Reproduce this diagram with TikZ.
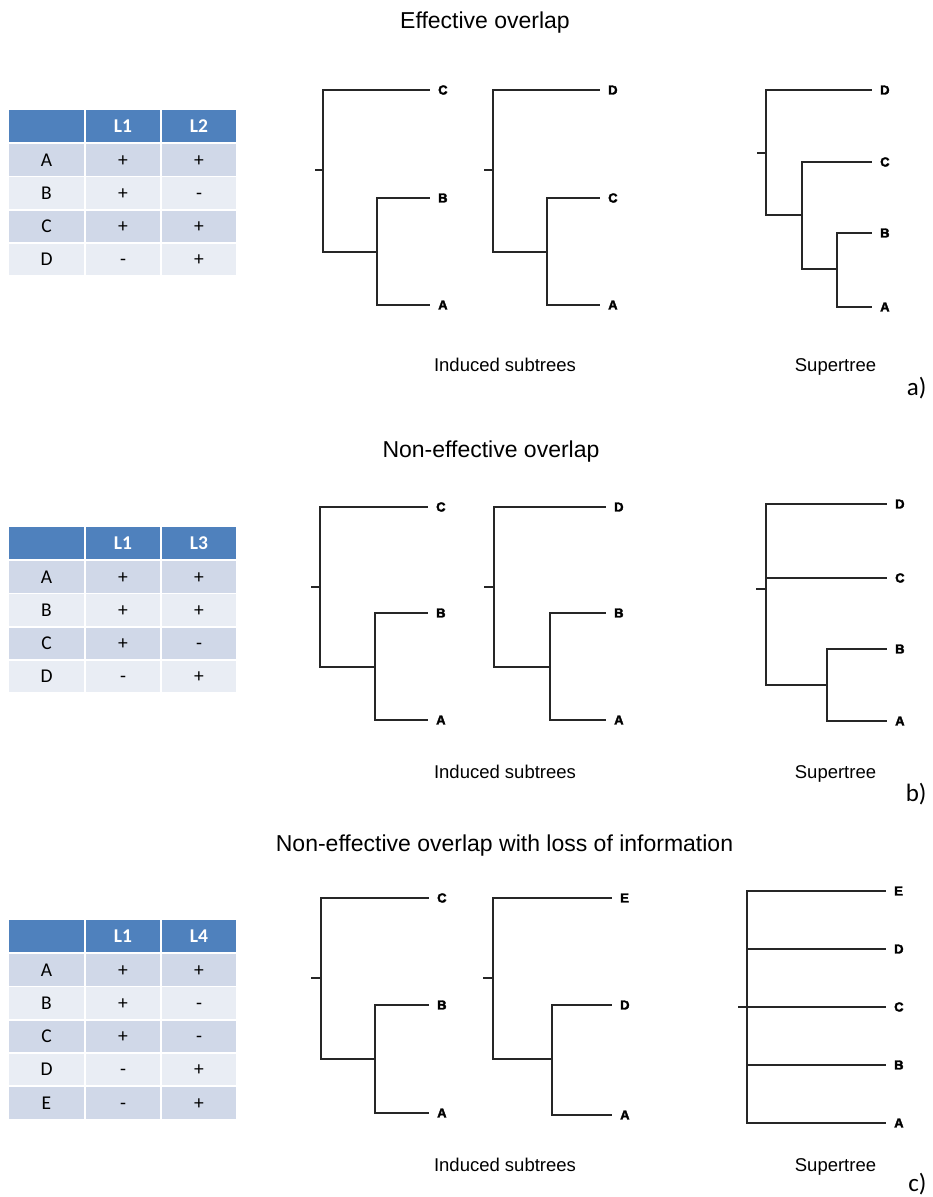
\documentclass[tikz,border=0pt]{standalone}
\usepackage{fontspec}
\setmainfont{Liberation Sans}
\newfontfamily\tabfont{Carlito}
\newfontfamily\leaffont[FakeBold=2.5]{Liberation Sans Bold}
\definecolor{hdr}{HTML}{4F81BD}
\definecolor{rowA}{HTML}{D0D8E8}
\definecolor{rowB}{HTML}{E9EDF4}
\tikzset{
  cellbox/.style={inner sep=0pt, minimum height=31.5pt, text height=12.5pt, text depth=0pt,
    font=\tabfont\fontsize{19.5}{19.5}\selectfont},
  hdrbox/.style={cellbox, fill=hdr, text=white, font=\tabfont\bfseries\fontsize{19.5}{19.5}\selectfont},
  oddrow/.style={cellbox, fill=rowA},
  evenrow/.style={cellbox, fill=rowB},
  branch/.style={draw=black!85, line width=1.1pt},
  toleaf/.style={branch, shorten >=8pt},
  leaf/.style={anchor=west, inner sep=0pt, font=\leaffont\fontsize{13}{13}\selectfont},
  title/.style={anchor=base, font=\fontsize{23}{23}\selectfont},
  caption/.style={anchor=base, font=\fontsize{18.5}{18.5}\selectfont},
  partlabel/.style={anchor=base east, font=\tabfont\fontsize{25}{25}\selectfont},
}
\newcommand\tabrow[6]{%
  \node[#3, minimum width=75pt] (#1-1) at (46.5,#2+15.75) {#4};
  \node[#3, minimum width=74pt] (#1-2) at (123,#2+15.75) {#5};
  \node[#3, minimum width=74pt] (#1-3) at (199,#2+15.75) {#6};}
\begin{document}
\begin{tikzpicture}[x=1pt,y=-1pt]
\useasboundingbox (0,0) rectangle (932,1197);
\fill[white] (0,0) rectangle (932,1197);

% ---------------- a) ----------------
\node[title] (ta) at (485,28) {Effective overlap};
\tabrow{TAh}{110}{hdrbox}{}{L1}{L2}
\tabrow{TAa}{144}{oddrow}{A}{+}{+}
\tabrow{TAb}{177.3}{evenrow}{B}{+}{-}
\tabrow{TAc}{210.6}{oddrow}{C}{+}{+}
\tabrow{TAd}{243.9}{evenrow}{D}{-}{+}

% left induced subtree
\coordinate (a1s) at (315,170);
\coordinate (a1r) at (323,170);
\coordinate (a1n) at (377,252);
\node[leaf] (a1C) at (438,90) {C};
\node[leaf] (a1B) at (438,198) {B};
\node[leaf] (a1A) at (438,305) {A};
\draw[branch] (a1s) -- (a1r);
\draw[toleaf] (a1r) |- (a1C.west);
\draw[branch] (a1r) |- (a1n);
\draw[toleaf] (a1n) |- (a1B.west);
\draw[toleaf] (a1n) |- (a1A.west);
% right induced subtree
\coordinate (a2s) at (484,170);
\coordinate (a2r) at (493,170);
\coordinate (a2n) at (547,252);
\node[leaf] (a2D) at (608,90) {D};
\node[leaf] (a2C) at (608,198) {C};
\node[leaf] (a2A) at (608,305) {A};
\draw[branch] (a2s) -- (a2r);
\draw[toleaf] (a2r) |- (a2D.west);
\draw[branch] (a2r) |- (a2n);
\draw[toleaf] (a2n) |- (a2C.west);
\draw[toleaf] (a2n) |- (a2A.west);
% supertree
\coordinate (a3s) at (757,153);
\coordinate (a3r) at (766,153);
\coordinate (a3n) at (802,215);
\coordinate (a3m) at (837,269);
\node[leaf] (a3D) at (880,90) {D};
\node[leaf] (a3C) at (880,162) {C};
\node[leaf] (a3B) at (880,233) {B};
\node[leaf] (a3A) at (880,307) {A};
\draw[branch] (a3s) -- (a3r);
\draw[toleaf] (a3r) |- (a3D.west);
\draw[branch] (a3r) |- (a3n);
\draw[toleaf] (a3n) |- (a3C.west);
\draw[branch] (a3n) |- (a3m);
\draw[toleaf] (a3m) |- (a3B.west);
\draw[toleaf] (a3m) |- (a3A.west);

\node[caption] (ia) at (505,371) {Induced subtrees};
\node[caption] (sa) at (835.5,371) {Supertree};
\node[partlabel] (pa) at (930,395) {a)};

% ---------------- b) ----------------
\node[title] (tb) at (491,457) {Non-effective overlap};
\tabrow{TBh}{527}{hdrbox}{}{L1}{L3}
\tabrow{TBa}{561}{oddrow}{A}{+}{+}
\tabrow{TBb}{594.3}{evenrow}{B}{+}{+}
\tabrow{TBc}{627.6}{oddrow}{C}{+}{-}
\tabrow{TBd}{660.9}{evenrow}{D}{-}{+}

\coordinate (b1s) at (311,587);
\coordinate (b1r) at (320,587);
\coordinate (b1n) at (375,667);
\node[leaf] (b1C) at (436,507) {C};
\node[leaf] (b1B) at (436,613) {B};
\node[leaf] (b1A) at (436,720) {A};
\draw[branch] (b1s) -- (b1r);
\draw[toleaf] (b1r) |- (b1C.west);
\draw[branch] (b1r) |- (b1n);
\draw[toleaf] (b1n) |- (b1B.west);
\draw[toleaf] (b1n) |- (b1A.west);

\coordinate (b2s) at (484,587);
\coordinate (b2r) at (494,587);
\coordinate (b2n) at (550,667);
\node[leaf] (b2D) at (614,507) {D};
\node[leaf] (b2B) at (614,613) {B};
\node[leaf] (b2A) at (614,720) {A};
\draw[branch] (b2s) -- (b2r);
\draw[toleaf] (b2r) |- (b2D.west);
\draw[branch] (b2r) |- (b2n);
\draw[toleaf] (b2n) |- (b2B.west);
\draw[toleaf] (b2n) |- (b2A.west);

\coordinate (b3s) at (756,589);
\coordinate (b3r) at (766,589);
\coordinate (b3n) at (827,685);
\node[leaf] (b3D) at (895,504) {D};
\node[leaf] (b3C) at (895,578) {C};
\node[leaf] (b3B) at (895,649) {B};
\node[leaf] (b3A) at (895,721) {A};
\draw[branch] (b3s) -- (b3r);
\draw[toleaf] (b3r) |- (b3D.west);
\draw[toleaf] (b3r) |- (b3C.west);
\draw[branch] (b3r) |- (b3n);
\draw[toleaf] (b3n) |- (b3B.west);
\draw[toleaf] (b3n) |- (b3A.west);

\node[caption] (ib) at (505,778) {Induced subtrees};
\node[caption] (sb) at (835.5,778) {Supertree};
\node[partlabel] (pb) at (930,801) {b)};

% ---------------- c) ----------------
\node[title] (tc) at (504.5,851) {Non-effective overlap with loss of information};
\tabrow{TCh}{920}{hdrbox}{}{L1}{L4}
\tabrow{TCa}{954}{oddrow}{A}{+}{+}
\tabrow{TCb}{987.3}{evenrow}{B}{+}{-}
\tabrow{TCc}{1020.6}{oddrow}{C}{+}{-}
\tabrow{TCd}{1053.9}{evenrow}{D}{-}{+}
\tabrow{TCe}{1087.2}{oddrow}{E}{-}{+}

\coordinate (c1s) at (311,978);
\coordinate (c1r) at (321,978);
\coordinate (c1n) at (375,1059);
\node[leaf] (c1C) at (437,898) {C};
\node[leaf] (c1B) at (437,1005) {B};
\node[leaf] (c1A) at (437,1113) {A};
\draw[branch] (c1s) -- (c1r);
\draw[toleaf] (c1r) |- (c1C.west);
\draw[branch] (c1r) |- (c1n);
\draw[toleaf] (c1n) |- (c1B.west);
\draw[toleaf] (c1n) |- (c1A.west);

\coordinate (c2s) at (483,978);
\coordinate (c2r) at (493,978);
\coordinate (c2n) at (552,1059);
\node[leaf] (c2E) at (620,898) {E};
\node[leaf] (c2D) at (620,1005) {D};
\node[leaf] (c2A) at (620,1115) {A};
\draw[branch] (c2s) -- (c2r);
\draw[toleaf] (c2r) |- (c2E.west);
\draw[branch] (c2r) |- (c2n);
\draw[toleaf] (c2n) |- (c2D.west);
\draw[toleaf] (c2n) |- (c2A.west);

\coordinate (c3s) at (738,1007);
\coordinate (c3r) at (747,1007);
\node[leaf] (c3E) at (894,891) {E};
\node[leaf] (c3D) at (894,949) {D};
\node[leaf] (c3C) at (894,1007) {C};
\node[leaf] (c3B) at (894,1065) {B};
\node[leaf] (c3A) at (894,1123) {A};
\draw[branch] (c3s) -- (c3r);
\draw[toleaf] (c3r) |- (c3E.west);
\draw[toleaf] (c3r) |- (c3D.west);
\draw[toleaf] (c3r) |- (c3C.west);
\draw[toleaf] (c3r) |- (c3B.west);
\draw[toleaf] (c3r) |- (c3A.west);

\node[caption] (ic) at (505,1171) {Induced subtrees};
\node[caption] (sc) at (835.5,1171) {Supertree};
\node[partlabel] (pc) at (930,1191) {c)};
\end{tikzpicture}
\end{document}
